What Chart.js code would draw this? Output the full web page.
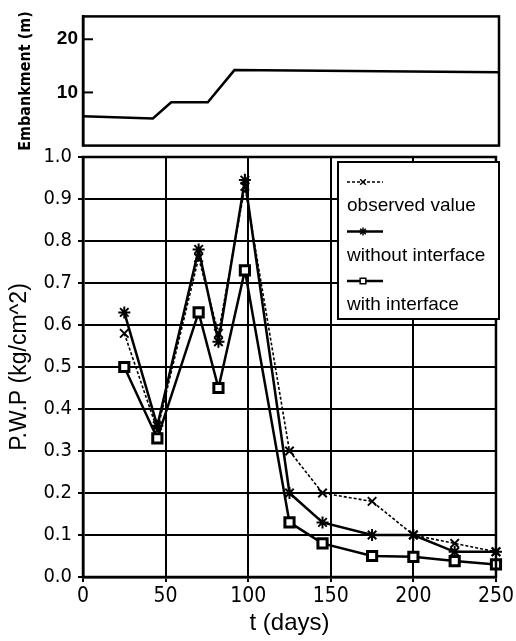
<!DOCTYPE html>
<html>
<head>
<meta charset="utf-8">
<script src="https://cdn.jsdelivr.net/npm/chart.js@4.4.1/dist/chart.umd.min.js"></script>
<style>
  html, body { margin: 0; padding: 0; background: #fff; }
  #wrap { position: relative; width: 516px; height: 641px; }
  #wrap canvas { position: absolute; left: 0; top: 0; }
</style>
</head>
<body>
<div id="wrap">
  <canvas id="pwpChart" width="516" height="641"></canvas>
  <canvas id="embChart" width="516" height="162"></canvas>
</div>
<script>
/* eslint-disable*/

// pore water pressure, kg/cm^2, per day
const days = [25, 45, 70, 82, 98, 125, 145, 175, 200, 225, 250];
const observed = [0.58, 0.35, 0.76, 0.58, 0.93, 0.30, 0.20, 0.18, 0.10, 0.08, 0.06];
const withoutInterface = [0.63, 0.36, 0.78, 0.56, 0.945, 0.20, 0.13, 0.10, 0.10, 0.06, 0.06];
const withInterface = [0.50, 0.33, 0.63, 0.45, 0.73, 0.13, 0.08, 0.05, 0.048, 0.038, 0.03];
const seriesNames = ['observed value', 'without interface', 'with interface'];

// embankment height, m
const embDays = [0, 42, 53, 75, 91, 250];
const embHeight = [5.5, 5.1, 8.15, 8.15, 14.2, 13.8];
const embTicks = [10, 20];

const narrow = "'Liberation Sans Narrow', 'DejaVu Sans Condensed', sans-serif";
const plain = "'Liberation Sans', Arial, sans-serif";

Chart.defaults.color = '#000';
Chart.defaults.animation = false;

const toPoints = (xs, ys) => xs.map((x, i) => ({ x: x, y: ys[i] }));

// box around the plot area
const frame = {
  id: 'frame',
  afterDraw(chart) {
    const { ctx, chartArea: a } = chart;
    ctx.save();
    ctx.strokeStyle = '#000';
    ctx.lineWidth = 2.5;
    ctx.strokeRect(a.left, a.top, a.right - a.left, a.bottom - a.top);
    ctx.restore();
  },
};

// short inward ticks on the embankment axis
const innerTicks = {
  id: 'innerTicks',
  afterDraw(chart) {
    const { ctx, chartArea: a } = chart;
    const y = chart.scales.y;
    ctx.save();
    ctx.strokeStyle = '#000';
    ctx.lineWidth = 2;
    embTicks.forEach((v) => {
      const py = y.getPixelForValue(v);
      ctx.beginPath();
      ctx.moveTo(a.left, py);
      ctx.lineTo(a.left + 10, py);
      ctx.stroke();
    });
    ctx.restore();
  },
};

// legend: sample line above each name
const boxLegend = {
  id: 'boxLegend',
  afterDraw(chart) {
    const ctx = chart.ctx;
    const left = 338, top = 162, w = 161, h = 157;
    ctx.save();
    ctx.fillStyle = '#fff';
    ctx.fillRect(left, top, w, h);
    ctx.strokeStyle = '#000';
    ctx.lineWidth = 2;
    ctx.strokeRect(left, top, w, h);
    chart.data.datasets.forEach((ds, i) => {
      const sy = top + 20 + i * 49.5;
      ctx.lineWidth = ds.borderWidth;
      ctx.setLineDash(ds.borderDash || []);
      ctx.beginPath();
      ctx.moveTo(left + 9, sy);
      ctx.lineTo(left + 45, sy);
      ctx.stroke();
      ctx.setLineDash([]);
      ctx.fillStyle = '#fff';
      ctx.lineWidth = 1.5;
      Chart.helpers.drawPoint(ctx, {
        pointStyle: ds.pointStyle,
        radius: 4,
        rotation: 0,
        borderWidth: 1.5,
      }, left + 25, sy);
      ctx.fillStyle = '#000';
      ctx.font = '19px ' + plain;
      ctx.textBaseline = 'middle';
      ctx.fillText(ds.label, left + 9, sy + 24);
    });
    ctx.restore();
  },
};

const pwpCtx = document.getElementById('pwpChart');
const pwpChart = new Chart(pwpCtx, {
  type: 'line',
  data: {
    datasets: [
      {
        label: seriesNames[0],
        data: toPoints(days, observed),
        borderColor: '#000',
        backgroundColor: '#fff',
        borderWidth: 1.6,
        borderDash: [3, 2],
        pointStyle: 'crossRot',
        pointRadius: 6,
        pointBorderWidth: 2,
        clip: false,
      },
      {
        label: seriesNames[1],
        data: toPoints(days, withoutInterface),
        borderColor: '#000',
        backgroundColor: '#fff',
        borderWidth: 2.5,
        pointStyle: 'star',
        pointRadius: 6,
        pointBorderWidth: 2,
        clip: false,
      },
      {
        label: seriesNames[2],
        data: toPoints(days, withInterface),
        borderColor: '#000',
        backgroundColor: '#fff',
        borderWidth: 2.5,
        pointStyle: 'rect',
        pointRadius: 6.5,
        pointBorderWidth: 3,
        clip: false,
      },
    ],
  },
  options: {
    responsive: false,
    layout: { padding: { top: 157, right: 17, left: 0, bottom: 0 } },
    plugins: { legend: { display: false }, tooltip: { enabled: false } },
    scales: {
      x: {
        type: 'linear',
        min: 0,
        max: 250,
        afterFit: (s) => { s.height = 64; },
        ticks: { stepSize: 50, padding: 2, font: { family: narrow, size: 21 } },
        grid: { color: '#000', lineWidth: 2, tickLength: 5 },
        border: { color: '#000', width: 2.5 },
        title: {
          display: true,
          text: 't (days)',
          font: { family: plain, size: 24 },
          padding: { top: 0, bottom: 3 },
        },
      },
      y: {
        min: 0,
        max: 1,
        afterFit: (s) => { s.width = 83; },
        ticks: {
          stepSize: 0.1,
          padding: 6,
          font: { family: narrow, size: 20 },
          callback: (v) => Number(v).toFixed(1),
        },
        grid: { color: '#000', lineWidth: 2, tickLength: 5 },
        border: { color: '#000', width: 2.5 },
        title: {
          display: true,
          text: 'P.W.P (kg/cm^2)',
          font: { family: plain, size: 23 },
          padding: { top: 6, bottom: 0 },
        },
      },
    },
  },
  plugins: [frame, boxLegend],
});

const embCtx = document.getElementById('embChart');
const embChart = new Chart(embCtx, {
  type: 'line',
  data: {
    datasets: [
      {
        label: 'Embankment',
        data: toPoints(embDays, embHeight),
        borderColor: '#000',
        borderWidth: 2.5,
        pointRadius: 0,
        tension: 0,
      },
    ],
  },
  options: {
    responsive: false,
    layout: { padding: { top: 5, right: 17, left: 0, bottom: 4 } },
    plugins: { legend: { display: false }, tooltip: { enabled: false } },
    scales: {
      x: { type: 'linear', min: 0, max: 250, display: false },
      y: {
        min: 0,
        max: 24.3,
        afterFit: (s) => { s.width = 83; },
        afterBuildTicks: (s) => { s.ticks = embTicks.map((v) => ({ value: v })); },
        ticks: {
          padding: 5,
          font: { family: plain, size: 19, weight: 'bold' },
        },
        grid: { display: false, drawTicks: false },
        border: { color: '#000', width: 2.5 },
        title: {
          display: true,
          text: 'Embankment (m)',
          font: { family: narrow, size: 16, weight: 'bold' },
          padding: { top: 16, bottom: 0 },
        },
      },
    },
  },
  plugins: [frame, innerTicks],
});
</script>
</body>
</html>
